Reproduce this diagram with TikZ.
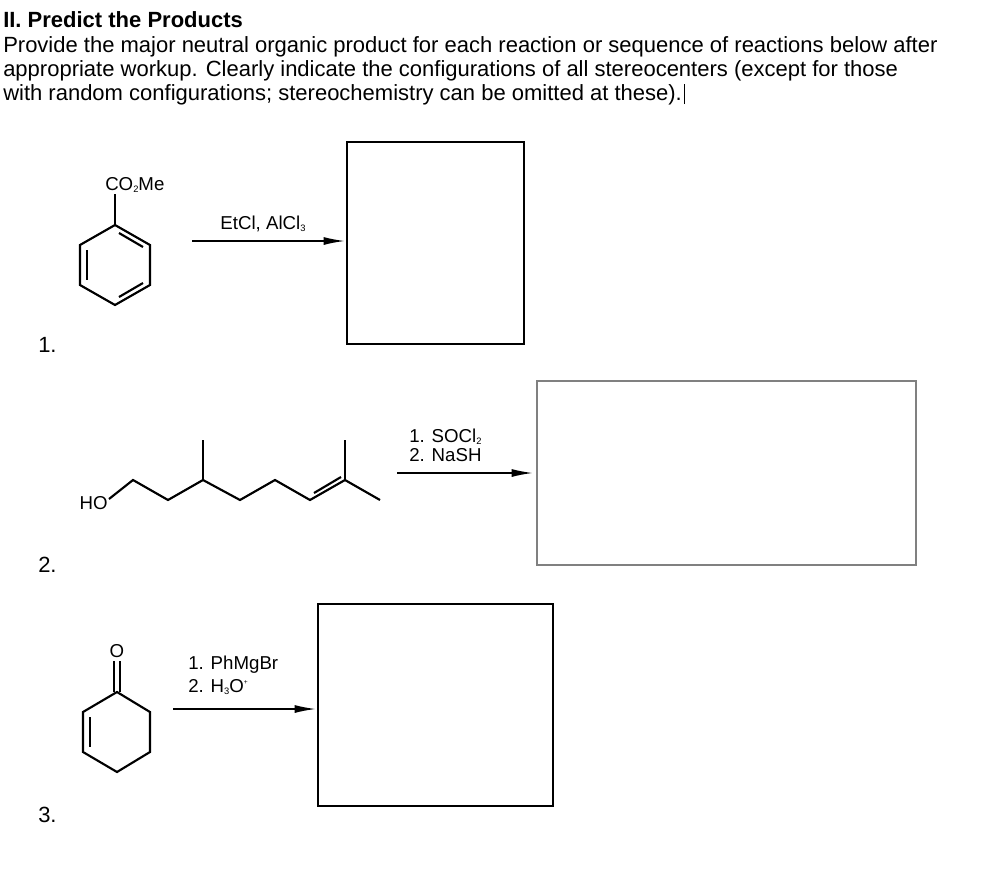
\documentclass[tikz,border=0pt]{standalone}
\usepackage{fontspec}
\setmainfont{Liberation Sans}
\usetikzlibrary{arrows.meta}
\newcommand{\chsb}[1]{\raisebox{-0.3ex}{\scriptsize #1}}
\newcommand{\chsp}[1]{\raisebox{0.8ex}{\tiny #1}}
\begin{document}
\begin{tikzpicture}[x=0.75pt,y=-0.75pt,
  bond/.style={line width=1.6pt,line join=miter},
  rxarrow/.style={line width=1.2pt,-{Latex[length=16pt,width=6pt]}},
  box/.style={draw,line width=1.2pt},
  txt/.style={font=\fontsize{16.5pt}{20pt}\selectfont,inner sep=0pt},
  lab/.style={font=\fontsize{14pt}{17pt}\selectfont,inner sep=0pt}]
\useasboundingbox (0,0) rectangle (1000,872);
\node[txt,anchor=base west,font=\bfseries\fontsize{16.5pt}{20pt}\selectfont] (title) at (3,27) {II. Predict the Products};
\node[txt,anchor=base west] (l1) at (3,52) {Provide the major neutral organic product for each reaction or sequence of reactions below after};
\node[txt,anchor=base west] (l2) at (3,76) {appropriate workup. Clearly indicate the configurations of all stereocenters (except for those};
\node[txt,anchor=base west] (l3) at (3,100) {with random configurations; stereochemistry can be omitted at these).};
\draw[line width=1pt] (l3.base east)++(2,4) -- ++(0,-20);
% numbers
\node[txt,anchor=base west] (n1) at (38,352) {1.};
\node[txt,anchor=base west] (n2) at (38,572) {2.};
\node[txt,anchor=base west] (n3) at (38,822) {3.};
% molecule 1
\coordinate (a1) at (115,225); \coordinate (a2) at (150,245); \coordinate (a3) at (150,285);
\coordinate (a4) at (115,305); \coordinate (a5) at (80,285); \coordinate (a6) at (80,245);
\draw[bond] (a1)--(a2)--(a3)--(a4)--(a5)--(a6)--cycle;
\draw[bond] (115,225)--(115,194);
\draw[bond] (119,233)--(143,247);
\draw[bond] (143,283)--(119,297);
\draw[bond] (87,250)--(87,280);
\node[lab,anchor=base west] (co) at (105,190) {CO\chsb{2}Me};
\node[lab,anchor=base] (r1) at (263,229) {EtCl, AlCl\chsb{3}};
\coordinate (s1) at (192,241); \coordinate (e1) at (345,241);
\draw[rxarrow] (s1)--(e1);
\draw[box] (347,142) rectangle (524,344);
% molecule 2
\node[lab,anchor=base east] (ho) at (108,509) {HO};
\draw[bond] (109,499)--(133,480)--(168,500)--(203,480)--(240,500)--(275,480)--(310,500)--(345,480)--(380,500);
\draw[bond] (203,480)--(203,440);
\draw[bond] (345,480)--(345,440);
\draw[bond] (314,493)--(341,477);
\node[lab,anchor=base west] (r2a) at (409,442) {1. SOCl\chsb{2}};
\node[lab,anchor=base west] (r2b) at (409,461) {2. NaSH};
\draw[rxarrow] (397,473)--(533,473);
\draw[draw=gray,line width=1.4pt] (537,381) rectangle (916,565);
% molecule 3
\node[lab] (o3) at (117,651) {O};
\draw[bond] (114,661)--(114,692);
\draw[bond] (120,661)--(120,692);
\coordinate (b1) at (117,692); \coordinate (b2) at (150,712); \coordinate (b3) at (150,752);
\coordinate (b4) at (117,772); \coordinate (b5) at (83,752); \coordinate (b6) at (83,712);
\draw[bond] (b1)--(b2)--(b3)--(b4)--(b5)--(b6)--cycle;
\draw[bond] (90,717)--(90,747);
\node[lab,anchor=base west] (r3a) at (188,669) {1. PhMgBr};
\node[lab,anchor=base west] (r3b) at (188,692) {2. H\chsb{3}O\chsp{+}};
\draw[rxarrow] (173,709)--(316,709);
\draw[box] (318,604) rectangle (553,806);
\end{tikzpicture}
\end{document}
